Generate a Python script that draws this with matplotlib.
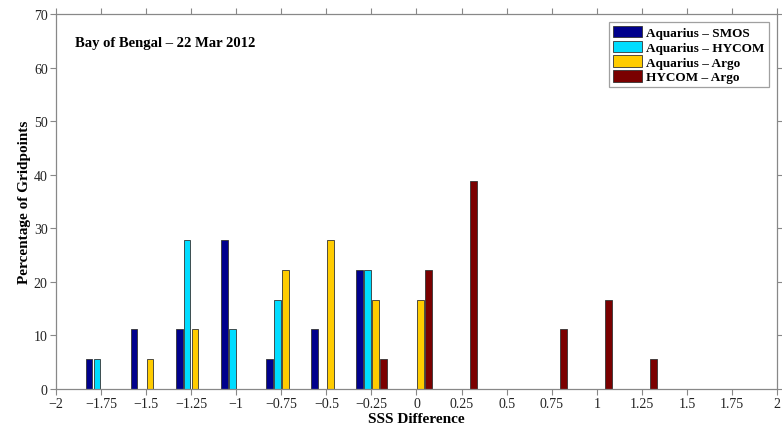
import matplotlib
matplotlib.use("Agg")
import matplotlib.pyplot as plt
import numpy as np

plt.rcParams['font.family'] = ['Liberation Serif', 'DejaVu Serif']

# SSS difference bin centres and percentage of gridpoints per comparison
bins = [-1.75, -1.5, -1.25, -1.0, -0.75, -0.5, -0.25, 0.0, 0.25, 0.5, 0.75, 1.0, 1.25, 1.5, 1.75]
aq_smos = [5.56, 11.11, 11.11, 27.78, 5.56, 11.11, 22.22, 0, 0, 0, 0, 0, 0, 0, 0]
aq_hycom = [5.56, 0, 27.78, 11.11, 16.67, 0, 22.22, 0, 0, 0, 0, 0, 0, 0, 0]
aq_argo = [0, 5.56, 11.11, 0, 22.22, 27.78, 16.67, 16.67, 0, 0, 0, 0, 0, 0, 0]
hycom_argo = [0, 0, 0, 0, 0, 0, 5.56, 22.22, 38.89, 0, 11.11, 16.67, 5.56, 0, 0]

series = [
    ("Aquarius \u2013 SMOS", aq_smos, "#00008c"),
    ("Aquarius \u2013 HYCOM", aq_hycom, "#00dcff"),
    ("Aquarius \u2013 Argo", aq_argo, "#ffcc00"),
    ("HYCOM \u2013 Argo", hycom_argo, "#7a0000"),
]

xticks = [-2, -1.75, -1.5, -1.25, -1, -0.75, -0.5, -0.25, 0, 0.25, 0.5, 0.75, 1, 1.25, 1.5, 1.75, 2]
xticklabels = ["\u22122", "\u22121.75", "\u22121.5", "\u22121.25", "\u22121", "\u22120.75", "\u22120.5",
               "\u22120.25", "0", "0.25", "0.5", "0.75", "1", "1.25", "1.5", "1.75", "2"]

fig = plt.figure(figsize=(7.82, 4.27), dpi=100)
ax = fig.add_axes([0.0716, 0.0867, 0.922, 0.878])

x = np.array(bins)
offsets = [-0.066, -0.022, 0.022, 0.066]
width = 0.036
for (label, vals, color), off in zip(series, offsets):
    ax.bar(x + off, vals, width=width, color=color, edgecolor="#333333",
           linewidth=0.6, label=label, zorder=2)

ax.set_xlim(-2, 2)
ax.set_ylim(0, 70)
ax.set_xticks(xticks)
ax.set_xticklabels(xticklabels)
ax.set_yticks(range(0, 71, 10))

for s in ax.spines.values():
    s.set_color("#888888")
    s.set_linewidth(0.9)
ax.tick_params(axis="both", direction="out", length=4, width=0.8, color="#888888",
               labelsize=10, labelcolor="#222222", top=True, right=True, pad=2)

ax.set_xlabel("SSS Difference", fontsize=11, fontweight="bold", labelpad=1)
ax.set_ylabel("Percentage of Gridpoints", fontsize=11, fontweight="bold", labelpad=2)

ax.text(0.027, 0.925, "Bay of Bengal \u2013 22 Mar 2012", transform=ax.transAxes,
        fontsize=10.5, fontweight="bold", va="center", ha="left")

leg = ax.legend(loc="upper right", bbox_to_anchor=(0.994, 0.99),
                prop={"weight": "bold", "size": 9.5}, frameon=True, fancybox=False,
                handlelength=2.2, handleheight=0.95, handletextpad=0.3,
                labelspacing=0.12, borderpad=0.3, borderaxespad=0.3)
leg.get_frame().set_edgecolor("#888888")
leg.get_frame().set_linewidth(0.9)

fig.savefig("out.png", dpi=100)
